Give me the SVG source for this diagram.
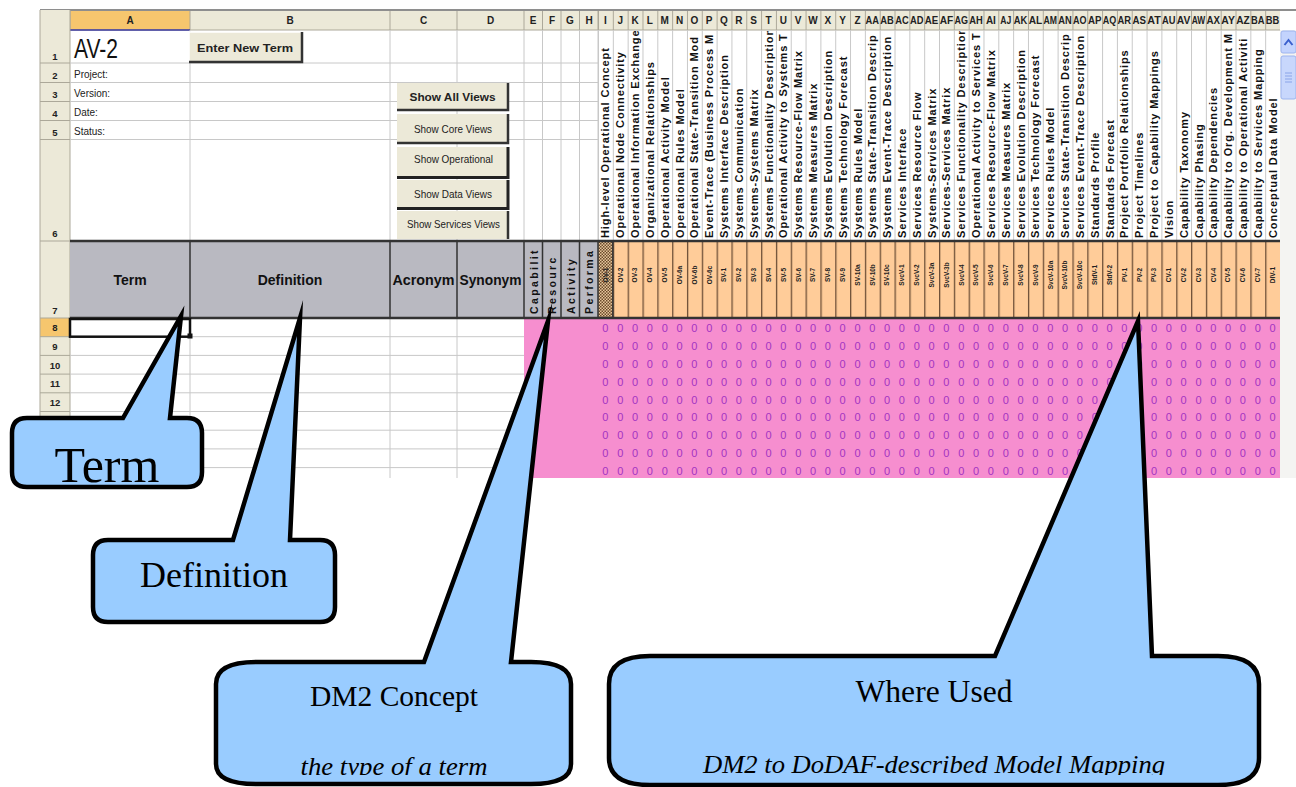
<svg xmlns="http://www.w3.org/2000/svg" width="1296" height="787" viewBox="0 0 1296 787">
<defs>
<style>
.hdr{font-family:"Liberation Sans",Arial,sans-serif;font-size:10px;font-weight:bold;fill:#222;text-anchor:middle}
.rn{font-family:"Liberation Sans",Arial,sans-serif;font-size:9.5px;font-weight:bold;fill:#222;text-anchor:middle}
.vl{font-family:"Liberation Sans",Arial,sans-serif;font-size:11px;font-weight:bold;fill:#111;letter-spacing:0.9px}
.ol{font-family:"Liberation Sans",Arial,sans-serif;font-size:6.5px;font-weight:bold;fill:#222;text-anchor:middle}
.zr{font-family:"Liberation Sans",Arial,sans-serif;font-size:11px;fill:#A334C2;text-anchor:middle}
.btn{font-family:"Liberation Sans",Arial,sans-serif;font-size:11px;fill:#222;text-anchor:middle}
.gh{font-family:"Liberation Sans",Arial,sans-serif;font-size:14px;font-weight:bold;fill:#111;text-anchor:middle}
.ev{font-family:"Liberation Sans",Arial,sans-serif;font-size:10.5px;font-weight:bold;fill:#111;letter-spacing:2.4px}
.lbl{font-family:"Liberation Sans",Arial,sans-serif;font-size:10px;fill:#222}
.co{fill:#99CCFF;stroke:#000;stroke-width:4.5;stroke-linejoin:miter;stroke-miterlimit:40}
.ct{font-family:"Liberation Serif","Times New Roman",serif;fill:#000;text-anchor:middle}
.g{stroke:#C8C8C8;stroke-width:1;fill:none}
.rh{stroke:#ACA899;stroke-width:1;fill:none}
.dk{stroke:#333;stroke-width:1.5;fill:none}
.bf{fill:#ECE9D8}
</style>
<pattern id="vgrid" x="598" y="0" width="14.826" height="10" patternUnits="userSpaceOnUse"><rect width="1" height="10" fill="#C8C8C8"/></pattern>
<pattern id="hgrid" x="598" y="0" width="14.826" height="10" patternUnits="userSpaceOnUse"><rect width="1" height="10" fill="#ACA899"/></pattern>
<pattern id="ogrid" x="598" y="0" width="14.826" height="10" patternUnits="userSpaceOnUse"><rect width="1.3" height="10" fill="#6E5038"/></pattern>
<pattern id="hatch" x="0" y="0" width="3" height="3" patternUnits="userSpaceOnUse"><rect width="3" height="3" fill="#E6C69C"/><rect width="1.5" height="1.5" fill="#6B4A2B"/><rect x="1.5" y="1.5" width="1.5" height="1.5" fill="#6B4A2B"/></pattern>
<clipPath id="vclip"><rect x="598" y="31" width="682" height="208"/></clipPath>
<clipPath id="eclip"><rect x="524" y="242" width="74" height="75"/></clipPath>
<clipPath id="sheetclip"><rect x="0" y="0" width="1296" height="478"/></clipPath>
<clipPath id="tclip"><rect x="0" y="600" width="1296" height="175"/></clipPath>
</defs>
<rect width="1296" height="787" fill="#FFFFFF"/>

<g id="spreadsheet" clip-path="url(#sheetclip)">
<rect x="70" y="30" width="1210" height="448" fill="#FFFFFF"/>
<!-- column header bar -->
<rect x="40" y="10" width="1240" height="20" class="bf"/>
<rect x="70" y="10" width="120" height="20" fill="#F6C66E"/>
<rect x="598" y="10" width="682" height="20" fill="url(#hgrid)"/>
<path class="rh" d="M70,10V30M190,10V30M390,10V30M457,10V30M524,10V30M542.5,10V30M561,10V30M579.5,10V30M598,10V30M40,30H1280"/>
<line x1="40" y1="10" x2="1296" y2="10" stroke="#8E8E8E" stroke-width="2"/>
<line x1="70" y1="30" x2="190" y2="30" stroke="#3A3AA0" stroke-width="1.5"/>
<text class="hdr" x="130" y="24">A</text>
<text class="hdr" x="290" y="24">B</text>
<text class="hdr" x="423.5" y="24">C</text>
<text class="hdr" x="490.5" y="24">D</text>
<text class="hdr" x="533" y="24">E</text>
<text class="hdr" x="552" y="24">F</text>
<text class="hdr" x="570" y="24">G</text>
<text class="hdr" x="589" y="24">H</text>
<text class="hdr" x="605.4" y="24">I</text>
<text class="hdr" x="620.2" y="24">J</text>
<text class="hdr" x="635.1" y="24">K</text>
<text class="hdr" x="649.9" y="24">L</text>
<text class="hdr" x="664.7" y="24">M</text>
<text class="hdr" x="679.5" y="24">N</text>
<text class="hdr" x="694.4" y="24">O</text>
<text class="hdr" x="709.2" y="24">P</text>
<text class="hdr" x="724.0" y="24">Q</text>
<text class="hdr" x="738.9" y="24">R</text>
<text class="hdr" x="753.7" y="24">S</text>
<text class="hdr" x="768.5" y="24">T</text>
<text class="hdr" x="783.3" y="24">U</text>
<text class="hdr" x="798.2" y="24">V</text>
<text class="hdr" x="813.0" y="24">W</text>
<text class="hdr" x="827.8" y="24">X</text>
<text class="hdr" x="842.6" y="24">Y</text>
<text class="hdr" x="857.5" y="24">Z</text>
<text class="hdr" x="872.3" y="24" textLength="13.5" lengthAdjust="spacingAndGlyphs">AA</text>
<text class="hdr" x="887.1" y="24" textLength="13.5" lengthAdjust="spacingAndGlyphs">AB</text>
<text class="hdr" x="901.9" y="24" textLength="13.5" lengthAdjust="spacingAndGlyphs">AC</text>
<text class="hdr" x="916.8" y="24" textLength="13.5" lengthAdjust="spacingAndGlyphs">AD</text>
<text class="hdr" x="931.6" y="24" textLength="13.5" lengthAdjust="spacingAndGlyphs">AE</text>
<text class="hdr" x="946.4" y="24" textLength="13.5" lengthAdjust="spacingAndGlyphs">AF</text>
<text class="hdr" x="961.2" y="24" textLength="13.5" lengthAdjust="spacingAndGlyphs">AG</text>
<text class="hdr" x="976.1" y="24" textLength="13.5" lengthAdjust="spacingAndGlyphs">AH</text>
<text class="hdr" x="990.9" y="24" textLength="10" lengthAdjust="spacingAndGlyphs">AI</text>
<text class="hdr" x="1005.7" y="24" textLength="11" lengthAdjust="spacingAndGlyphs">AJ</text>
<text class="hdr" x="1020.5" y="24" textLength="13.5" lengthAdjust="spacingAndGlyphs">AK</text>
<text class="hdr" x="1035.4" y="24" textLength="13.5" lengthAdjust="spacingAndGlyphs">AL</text>
<text class="hdr" x="1050.2" y="24" textLength="13.5" lengthAdjust="spacingAndGlyphs">AM</text>
<text class="hdr" x="1065.0" y="24" textLength="13.5" lengthAdjust="spacingAndGlyphs">AN</text>
<text class="hdr" x="1079.8" y="24" textLength="13.5" lengthAdjust="spacingAndGlyphs">AO</text>
<text class="hdr" x="1094.7" y="24" textLength="13.5" lengthAdjust="spacingAndGlyphs">AP</text>
<text class="hdr" x="1109.5" y="24" textLength="13.5" lengthAdjust="spacingAndGlyphs">AQ</text>
<text class="hdr" x="1124.3" y="24" textLength="13.5" lengthAdjust="spacingAndGlyphs">AR</text>
<text class="hdr" x="1139.2" y="24" textLength="13.5" lengthAdjust="spacingAndGlyphs">AS</text>
<text class="hdr" x="1154.0" y="24" textLength="13.5" lengthAdjust="spacingAndGlyphs">AT</text>
<text class="hdr" x="1168.8" y="24" textLength="13.5" lengthAdjust="spacingAndGlyphs">AU</text>
<text class="hdr" x="1183.6" y="24" textLength="13.5" lengthAdjust="spacingAndGlyphs">AV</text>
<text class="hdr" x="1198.5" y="24" textLength="13.5" lengthAdjust="spacingAndGlyphs">AW</text>
<text class="hdr" x="1213.3" y="24" textLength="13.5" lengthAdjust="spacingAndGlyphs">AX</text>
<text class="hdr" x="1228.1" y="24" textLength="13.5" lengthAdjust="spacingAndGlyphs">AY</text>
<text class="hdr" x="1242.9" y="24" textLength="13.5" lengthAdjust="spacingAndGlyphs">AZ</text>
<text class="hdr" x="1257.8" y="24" textLength="13.5" lengthAdjust="spacingAndGlyphs">BA</text>
<text class="hdr" x="1272.6" y="24" textLength="13.5" lengthAdjust="spacingAndGlyphs">BB</text>

<!-- row header column -->
<rect x="40" y="10" width="30" height="20" class="bf"/>
<rect x="40" y="30" width="30" height="448" class="bf"/>
<rect x="40" y="318" width="30" height="18.7" fill="#F6C66E"/>
<path class="rh" d="M40,63H70M40,82.5H70M40,101.5H70M40,120.5H70M40,139.5H70M40,241H70M40,318H70M40,336.7H70M40,355.4H70M40,374.1H70M40,392.8H70M40,411.5H70M40,430.2H70M40,448.9H70M40,467.6H70M70,10V478M40,10V478"/>
<text class="rn" x="55" y="60">1</text>
<text class="rn" x="55" y="79">2</text>
<text class="rn" x="55" y="98">3</text>
<text class="rn" x="55" y="117">4</text>
<text class="rn" x="55" y="136">5</text>
<text class="rn" x="55" y="237">6</text>
<text class="rn" x="55" y="314">7</text>
<text class="rn" x="55" y="331">8</text>
<text class="rn" x="55" y="350">9</text>
<text class="rn" x="55" y="369">10</text>
<text class="rn" x="55" y="387">11</text>
<text class="rn" x="55" y="406">12</text>

<!-- rows 1-6 grid -->
<path class="g" d="M70,63H598M70,82.5H598M70,101.5H598M70,120.5H598M70,139.5H598M190,30V241M390,30V241M457,30V241M524,30V241M542.5,30V241M561,30V241M579.5,30V241M598,30V241"/>
<rect x="598" y="30" width="682" height="211" fill="url(#vgrid)"/>

<!-- rows 8+ grid -->
<path class="g" d="M70,336.7H524M70,355.4H524M70,374.1H524M70,392.8H524M70,411.5H524M70,430.2H524M70,448.9H524M70,467.6H524M190,318V478M390,318V478M457,318V478"/>

<!-- row 1-5 texts -->
<text x="74" y="58" font-family="'Liberation Sans',Arial,sans-serif" font-size="27" fill="#111" textLength="44" lengthAdjust="spacingAndGlyphs">AV-2</text>
<text class="lbl" x="74" y="78">Project:</text>
<text class="lbl" x="74" y="97">Version:</text>
<text class="lbl" x="74" y="116">Date:</text>
<text class="lbl" x="74" y="135">Status:</text>

<!-- buttons -->
<g id="buttons">
<rect x="189" y="32" width="113" height="30" class="bf"/>
<path d="M189,62V32H302" stroke="#FFFFFF" stroke-width="1.5" fill="none"/>
<path d="M189,62H302V32" stroke="#333" stroke-width="2.5" fill="none"/>
<text class="btn" x="245" y="52" font-weight="bold" font-size="12.5" textLength="96" lengthAdjust="spacingAndGlyphs">Enter New Term</text>

<rect x="397" y="83" width="111" height="27" class="bf"/>
<path d="M397,110H508V83" stroke="#333" stroke-width="2.5" fill="none"/>
<text class="btn" x="452.5" y="101" font-weight="bold" font-size="11.5" textLength="86" lengthAdjust="spacingAndGlyphs">Show All Views</text>

<rect x="397" y="114" width="111" height="29" class="bf"/>
<path d="M397,143H508V114" stroke="#333" stroke-width="2.5" fill="none"/>
<text class="btn" x="453" y="133" textLength="78" lengthAdjust="spacingAndGlyphs">Show Core Views</text>

<rect x="397" y="147" width="111" height="30" class="bf"/>
<path d="M397,177.5H508V147" stroke="#222" stroke-width="3" fill="none"/>
<text class="btn" x="453.5" y="163" textLength="79" lengthAdjust="spacingAndGlyphs">Show Operational</text>

<rect x="397" y="180" width="111" height="28" class="bf"/>
<path d="M397,208.5H508V180" stroke="#222" stroke-width="3" fill="none"/>
<text class="btn" x="453" y="198" textLength="78" lengthAdjust="spacingAndGlyphs">Show Data Views</text>

<rect x="397" y="211" width="111" height="28" class="bf"/>
<path d="M508,239V211" stroke="#333" stroke-width="2.5" fill="none"/>
<text class="btn" x="453.5" y="228" textLength="93" lengthAdjust="spacingAndGlyphs">Show Services Views</text>
</g>

<!-- vertical view labels row 6 -->
<g clip-path="url(#vclip)">
<text class="vl" transform="translate(609.4,238) rotate(-90)">High-level Operational Concept</text>
<text class="vl" transform="translate(624.2,238) rotate(-90)">Operational Node Connectivity</text>
<text class="vl" transform="translate(639.1,238) rotate(-90)">Operational Information Exchange</text>
<text class="vl" transform="translate(653.9,238) rotate(-90)">Organizational Relationships</text>
<text class="vl" transform="translate(668.7,238) rotate(-90)">Operational Activity Model</text>
<text class="vl" transform="translate(683.5,238) rotate(-90)">Operational Rules Model</text>
<text class="vl" transform="translate(698.4,238) rotate(-90)">Operational State-Transition Mod</text>
<text class="vl" transform="translate(713.2,238) rotate(-90)">Event-Trace (Business Process M</text>
<text class="vl" transform="translate(728.0,238) rotate(-90)">Systems Interface Description</text>
<text class="vl" transform="translate(742.9,238) rotate(-90)">Systems Communication</text>
<text class="vl" transform="translate(757.7,238) rotate(-90)">Systems-Systems Matrix</text>
<text class="vl" transform="translate(772.5,238) rotate(-90)">Systems Functionality Description</text>
<text class="vl" transform="translate(787.3,238) rotate(-90)">Operational Activity to Systems T</text>
<text class="vl" transform="translate(802.2,238) rotate(-90)">Systems Resource-Flow Matrix</text>
<text class="vl" transform="translate(817.0,238) rotate(-90)">Systems Measures Matrix</text>
<text class="vl" transform="translate(831.8,238) rotate(-90)">Systems Evolution Description</text>
<text class="vl" transform="translate(846.6,238) rotate(-90)">Systems Technology Forecast</text>
<text class="vl" transform="translate(861.5,238) rotate(-90)">Systems Rules Model</text>
<text class="vl" transform="translate(876.3,238) rotate(-90)">Systems State-Transition Descrip</text>
<text class="vl" transform="translate(891.1,238) rotate(-90)">Systems Event-Trace Description</text>
<text class="vl" transform="translate(905.9,238) rotate(-90)">Services Interface</text>
<text class="vl" transform="translate(920.8,238) rotate(-90)">Services Resource Flow</text>
<text class="vl" transform="translate(935.6,238) rotate(-90)">Systems-Services Matrix</text>
<text class="vl" transform="translate(950.4,238) rotate(-90)">Services-Services Matrix</text>
<text class="vl" transform="translate(965.2,238) rotate(-90)">Services Functionality Description</text>
<text class="vl" transform="translate(980.1,238) rotate(-90)">Operational Activity to Services T</text>
<text class="vl" transform="translate(994.9,238) rotate(-90)">Services Resource-Flow Matrix</text>
<text class="vl" transform="translate(1009.7,238) rotate(-90)">Services Measures Matrix</text>
<text class="vl" transform="translate(1024.5,238) rotate(-90)">Services Evolution Description</text>
<text class="vl" transform="translate(1039.4,238) rotate(-90)">Services Technology Forecast</text>
<text class="vl" transform="translate(1054.2,238) rotate(-90)">Services Rules Model</text>
<text class="vl" transform="translate(1069.0,238) rotate(-90)">Services State-Transition Descrip</text>
<text class="vl" transform="translate(1083.8,238) rotate(-90)">Services Event-Trace Description</text>
<text class="vl" transform="translate(1098.7,238) rotate(-90)">Standards Profile</text>
<text class="vl" transform="translate(1113.5,238) rotate(-90)">Standards Forecast</text>
<text class="vl" transform="translate(1128.3,238) rotate(-90)">Project Portfolio Relationships</text>
<text class="vl" transform="translate(1143.2,238) rotate(-90)">Project Timelines</text>
<text class="vl" transform="translate(1158.0,238) rotate(-90)">Project to Capability Mappings</text>
<text class="vl" transform="translate(1172.8,238) rotate(-90)">Vision</text>
<text class="vl" transform="translate(1187.6,238) rotate(-90)">Capability Taxonomy</text>
<text class="vl" transform="translate(1202.5,238) rotate(-90)">Capability Phasing</text>
<text class="vl" transform="translate(1217.3,238) rotate(-90)">Capability Dependencies</text>
<text class="vl" transform="translate(1232.1,238) rotate(-90)">Capability to Org. Development M</text>
<text class="vl" transform="translate(1246.9,238) rotate(-90)">Capability to Operational Activiti</text>
<text class="vl" transform="translate(1261.8,238) rotate(-90)">Capability to Services Mapping</text>
<text class="vl" transform="translate(1276.6,238) rotate(-90)">Conceptual Data Model</text>
</g>

<!-- row 7 headers -->
<rect x="70" y="241" width="528" height="77" fill="#B9B9C1"/>
<rect x="598" y="241" width="14.83" height="77" fill="url(#hatch)"/>
<rect x="612.83" y="241" width="667.17" height="77" fill="#FFCC99"/>
<rect x="612.83" y="241" width="667.17" height="77" fill="url(#ogrid)"/>
<path class="dk" d="M190,241V318M390,241V318M457,241V318M524,241V318M542.5,241V318M561,241V318M579.5,241V318M598,241V318M612.83,241V318"/>
<text class="gh" x="130" y="285">Term</text>
<text class="gh" x="290" y="285">Definition</text>
<text class="gh" x="423.5" y="285" textLength="62" lengthAdjust="spacingAndGlyphs">Acronym</text>
<text class="gh" x="490.5" y="285" textLength="62" lengthAdjust="spacingAndGlyphs">Synonym</text>
<g clip-path="url(#eclip)">
<text class="ev" transform="translate(537.5,314) rotate(-90)">Capabilit</text>
<text class="ev" transform="translate(556,314) rotate(-90)">Resourc</text>
<text class="ev" transform="translate(574.5,314) rotate(-90)">Activity</text>
<text class="ev" transform="translate(593,314) rotate(-90)">Performa</text>
</g>
<text class="ol" transform="translate(607.7,275) rotate(-90)">OV-1</text>
<text class="ol" transform="translate(622.5,275) rotate(-90)">OV-2</text>
<text class="ol" transform="translate(637.4,275) rotate(-90)">OV-3</text>
<text class="ol" transform="translate(652.2,275) rotate(-90)">OV-4</text>
<text class="ol" transform="translate(667.0,275) rotate(-90)">OV-5</text>
<text class="ol" transform="translate(681.8,275) rotate(-90)">OV-6a</text>
<text class="ol" transform="translate(696.7,275) rotate(-90)">OV-6b</text>
<text class="ol" transform="translate(711.5,275) rotate(-90)">OV-6c</text>
<text class="ol" transform="translate(726.3,275) rotate(-90)">SV-1</text>
<text class="ol" transform="translate(741.2,275) rotate(-90)">SV-2</text>
<text class="ol" transform="translate(756.0,275) rotate(-90)">SV-3</text>
<text class="ol" transform="translate(770.8,275) rotate(-90)">SV-4</text>
<text class="ol" transform="translate(785.6,275) rotate(-90)">SV-5</text>
<text class="ol" transform="translate(800.5,275) rotate(-90)">SV-6</text>
<text class="ol" transform="translate(815.3,275) rotate(-90)">SV-7</text>
<text class="ol" transform="translate(830.1,275) rotate(-90)">SV-8</text>
<text class="ol" transform="translate(844.9,275) rotate(-90)">SV-9</text>
<text class="ol" transform="translate(859.8,275) rotate(-90)">SV-10a</text>
<text class="ol" transform="translate(874.6,275) rotate(-90)">SV-10b</text>
<text class="ol" transform="translate(889.4,275) rotate(-90)">SV-10c</text>
<text class="ol" transform="translate(904.2,275) rotate(-90)">SvcV-1</text>
<text class="ol" transform="translate(919.1,275) rotate(-90)">SvcV-2</text>
<text class="ol" transform="translate(933.9,275) rotate(-90)">SvcV-3a</text>
<text class="ol" transform="translate(948.7,275) rotate(-90)">SvcV-3b</text>
<text class="ol" transform="translate(963.5,275) rotate(-90)">SvcV-4</text>
<text class="ol" transform="translate(978.4,275) rotate(-90)">SvcV-5</text>
<text class="ol" transform="translate(993.2,275) rotate(-90)">SvcV-6</text>
<text class="ol" transform="translate(1008.0,275) rotate(-90)">SvcV-7</text>
<text class="ol" transform="translate(1022.8,275) rotate(-90)">SvcV-8</text>
<text class="ol" transform="translate(1037.7,275) rotate(-90)">SvcV-9</text>
<text class="ol" transform="translate(1052.5,275) rotate(-90)">SvcV-10a</text>
<text class="ol" transform="translate(1067.3,275) rotate(-90)">SvcV-10b</text>
<text class="ol" transform="translate(1082.1,275) rotate(-90)">SvcV-10c</text>
<text class="ol" transform="translate(1097.0,275) rotate(-90)">StdV-1</text>
<text class="ol" transform="translate(1111.8,275) rotate(-90)">StdV-2</text>
<text class="ol" transform="translate(1126.6,275) rotate(-90)">PV-1</text>
<text class="ol" transform="translate(1141.5,275) rotate(-90)">PV-2</text>
<text class="ol" transform="translate(1156.3,275) rotate(-90)">PV-3</text>
<text class="ol" transform="translate(1171.1,275) rotate(-90)">CV-1</text>
<text class="ol" transform="translate(1185.9,275) rotate(-90)">CV-2</text>
<text class="ol" transform="translate(1200.8,275) rotate(-90)">CV-3</text>
<text class="ol" transform="translate(1215.6,275) rotate(-90)">CV-4</text>
<text class="ol" transform="translate(1230.4,275) rotate(-90)">CV-5</text>
<text class="ol" transform="translate(1245.2,275) rotate(-90)">CV-6</text>
<text class="ol" transform="translate(1260.1,275) rotate(-90)">CV-7</text>
<text class="ol" transform="translate(1274.9,275) rotate(-90)">DIV-1</text>

<!-- pink matrix -->
<rect x="524" y="318" width="756" height="160" fill="#F68ECF"/>
<g class="zr">
<text y="332.3" x="605.4 620.2 635.1 649.9 664.7 679.5 694.4 709.2 724.0 738.9 753.7 768.5 783.3 798.2 813.0 827.8 842.6 857.5 872.3 887.1 901.9 916.8 931.6 946.4 961.2 976.1 990.9 1005.7 1020.5 1035.4 1050.2 1065.0 1079.8 1094.7 1109.5 1124.3 1139.2 1154.0 1168.8 1183.6 1198.5 1213.3 1228.1 1242.9 1257.8 1272.6">0000000000000000000000000000000000000000000000</text>
<text y="350.1" x="605.4 620.2 635.1 649.9 664.7 679.5 694.4 709.2 724.0 738.9 753.7 768.5 783.3 798.2 813.0 827.8 842.6 857.5 872.3 887.1 901.9 916.8 931.6 946.4 961.2 976.1 990.9 1005.7 1020.5 1035.4 1050.2 1065.0 1079.8 1094.7 1109.5 1124.3 1139.2 1154.0 1168.8 1183.6 1198.5 1213.3 1228.1 1242.9 1257.8 1272.6">0000000000000000000000000000000000000000000000</text>
<text y="367.9" x="605.4 620.2 635.1 649.9 664.7 679.5 694.4 709.2 724.0 738.9 753.7 768.5 783.3 798.2 813.0 827.8 842.6 857.5 872.3 887.1 901.9 916.8 931.6 946.4 961.2 976.1 990.9 1005.7 1020.5 1035.4 1050.2 1065.0 1079.8 1094.7 1109.5 1124.3 1139.2 1154.0 1168.8 1183.6 1198.5 1213.3 1228.1 1242.9 1257.8 1272.6">0000000000000000000000000000000000000000000000</text>
<text y="385.7" x="605.4 620.2 635.1 649.9 664.7 679.5 694.4 709.2 724.0 738.9 753.7 768.5 783.3 798.2 813.0 827.8 842.6 857.5 872.3 887.1 901.9 916.8 931.6 946.4 961.2 976.1 990.9 1005.7 1020.5 1035.4 1050.2 1065.0 1079.8 1094.7 1109.5 1124.3 1139.2 1154.0 1168.8 1183.6 1198.5 1213.3 1228.1 1242.9 1257.8 1272.6">0000000000000000000000000000000000000000000000</text>
<text y="403.5" x="605.4 620.2 635.1 649.9 664.7 679.5 694.4 709.2 724.0 738.9 753.7 768.5 783.3 798.2 813.0 827.8 842.6 857.5 872.3 887.1 901.9 916.8 931.6 946.4 961.2 976.1 990.9 1005.7 1020.5 1035.4 1050.2 1065.0 1079.8 1094.7 1109.5 1124.3 1139.2 1154.0 1168.8 1183.6 1198.5 1213.3 1228.1 1242.9 1257.8 1272.6">0000000000000000000000000000000000000000000000</text>
<text y="421.3" x="605.4 620.2 635.1 649.9 664.7 679.5 694.4 709.2 724.0 738.9 753.7 768.5 783.3 798.2 813.0 827.8 842.6 857.5 872.3 887.1 901.9 916.8 931.6 946.4 961.2 976.1 990.9 1005.7 1020.5 1035.4 1050.2 1065.0 1079.8 1094.7 1109.5 1124.3 1139.2 1154.0 1168.8 1183.6 1198.5 1213.3 1228.1 1242.9 1257.8 1272.6">0000000000000000000000000000000000000000000000</text>
<text y="439.1" x="605.4 620.2 635.1 649.9 664.7 679.5 694.4 709.2 724.0 738.9 753.7 768.5 783.3 798.2 813.0 827.8 842.6 857.5 872.3 887.1 901.9 916.8 931.6 946.4 961.2 976.1 990.9 1005.7 1020.5 1035.4 1050.2 1065.0 1079.8 1094.7 1109.5 1124.3 1139.2 1154.0 1168.8 1183.6 1198.5 1213.3 1228.1 1242.9 1257.8 1272.6">0000000000000000000000000000000000000000000000</text>
<text y="456.9" x="605.4 620.2 635.1 649.9 664.7 679.5 694.4 709.2 724.0 738.9 753.7 768.5 783.3 798.2 813.0 827.8 842.6 857.5 872.3 887.1 901.9 916.8 931.6 946.4 961.2 976.1 990.9 1005.7 1020.5 1035.4 1050.2 1065.0 1079.8 1094.7 1109.5 1124.3 1139.2 1154.0 1168.8 1183.6 1198.5 1213.3 1228.1 1242.9 1257.8 1272.6">0000000000000000000000000000000000000000000000</text>
<text y="474.7" x="605.4 620.2 635.1 649.9 664.7 679.5 694.4 709.2 724.0 738.9 753.7 768.5 783.3 798.2 813.0 827.8 842.6 857.5 872.3 887.1 901.9 916.8 931.6 946.4 961.2 976.1 990.9 1005.7 1020.5 1035.4 1050.2 1065.0 1079.8 1094.7 1109.5 1124.3 1139.2 1154.0 1168.8 1183.6 1198.5 1213.3 1228.1 1242.9 1257.8 1272.6">0000000000000000000000000000000000000000000000</text>
</g>

<!-- thick row separators -->
<line x1="70" y1="241" x2="1280" y2="241" stroke="#333" stroke-width="2.5"/>
<line x1="70" y1="318" x2="1280" y2="318" stroke="#333" stroke-width="2.5"/>

<!-- selected cell A8 -->
<rect x="70" y="319" width="120" height="17.7" fill="none" stroke="#111" stroke-width="2.5"/>
<rect x="187.5" y="333.5" width="5" height="5" fill="#111"/>

<!-- scrollbar -->
<rect x="1280" y="30" width="16" height="448" fill="#F4F4F2"/>
<rect x="1281" y="31" width="15" height="22" rx="2" fill="#C3D3FD" stroke="#9DB4EE"/>
<path d="M1284.5,45L1288.5,40L1292.5,45" fill="none" stroke="#3A5FCD" stroke-width="2"/>
<rect x="1281" y="56" width="15" height="43" rx="2" fill="#C8D7FC" stroke="#9DB4EE"/>
<path d="M1285,73H1292M1285,76H1292M1285,79H1292M1285,82H1292" stroke="#8AA4E8" stroke-width="1"/>
</g>

<g id="connectors"></g>

<g id="callout-term">
<path class="co" d="M27,418 L123,418 L181,316 L170,418 L187,418 Q202,418 202,433 L202,472 Q202,487 187,487 L27,487 Q12,487 12,472 L12,433 Q12,418 27,418 Z"/>
<text class="ct" x="107" y="482" font-size="50">Term</text>
</g>

<g id="callout-definition">
<path class="co" d="M108,540 L233,540 L300,318 L290,540 L320,540 Q335,540 335,555 L335,607 Q335,622 320,622 L108,622 Q93,622 93,607 L93,555 Q93,540 108,540 Z"/>
<text class="ct" x="214" y="587" font-size="36">Definition</text>
</g>

<g id="callout-dm2">
<path class="co" d="M256,662 L424,662 L548,321 L511,662 L531,662 C558,662 571,670 571,684 L571,764 C571,777 558,784 531,784 L256,784 C229,784 216,777 216,764 L216,684 C216,670 229,662 256,662 Z"/>
<text class="ct" x="394" y="706" font-size="30" textLength="168" lengthAdjust="spacingAndGlyphs">DM2 Concept</text>
<g clip-path="url(#tclip)">
<text class="ct" x="394" y="775" font-size="26" font-style="italic" textLength="187" lengthAdjust="spacingAndGlyphs">the type of a term</text>
</g>
</g>

<g id="callout-where-used">
<path class="co" d="M650,656 L995,656 L1138,321 L1152,656 L1218,656 C1246,656 1259,666 1259,684 L1259,758 C1259,776 1246,785 1218,785 L650,785 C622,785 609,776 609,758 L609,684 C609,666 622,656 650,656 Z"/>
<text class="ct" x="934" y="702" font-size="32" textLength="157" lengthAdjust="spacingAndGlyphs">Where Used</text>
<g clip-path="url(#tclip)">
<text class="ct" x="934" y="773" font-size="26" font-style="italic" textLength="462" lengthAdjust="spacingAndGlyphs">DM2 to DoDAF-described Model Mapping</text>
</g>
</g>
</svg>
